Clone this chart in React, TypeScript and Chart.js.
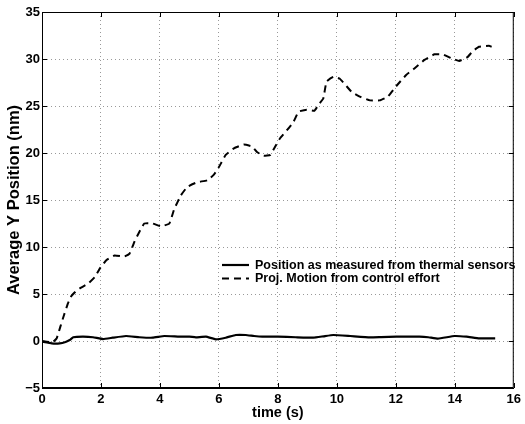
import React, { useEffect, useRef } from "react";
import { Chart, registerables } from "chart.js";

Chart.register(...registerables);

const seriesLabels = ["Position as measured from thermal sensors", "Proj. Motion from control effort"];

const posX = [0, 0.33, 0.6, 0.8, 0.94, 1.06, 1.39, 1.73, 2.07, 2.4, 2.85, 3.3, 3.75, 4.15, 4.65, 5.0, 5.22, 5.56, 5.89, 6.23, 6.57, 6.91, 7.19, 7.47, 8.0, 8.6, 9.2, 9.55, 9.88, 10.45, 11.12, 11.5, 12.02, 12.8, 13.1, 13.43, 13.99, 14.4, 14.83, 15.37];
const posY = [-0.07, -0.25, -0.25, -0.1, 0.1, 0.4, 0.46, 0.4, 0.2, 0.35, 0.53, 0.4, 0.35, 0.53, 0.46, 0.46, 0.39, 0.46, 0.18, 0.35, 0.64, 0.64, 0.53, 0.46, 0.46, 0.4, 0.35, 0.5, 0.64, 0.53, 0.39, 0.42, 0.46, 0.46, 0.4, 0.25, 0.53, 0.46, 0.28, 0.28];

const projX = [0, 0.35, 0.5, 0.62, 0.75, 0.88, 1.0, 1.15, 1.28, 1.56, 1.79, 1.96, 2.18, 2.46, 2.8, 2.97, 3.14, 3.3, 3.47, 3.75, 4.03, 4.32, 4.48, 4.71, 4.93, 5.27, 5.61, 5.83, 6.0, 6.23, 6.51, 6.84, 7.12, 7.29, 7.52, 7.74, 7.91, 8.08, 8.3, 8.53, 8.7, 8.98, 9.24, 9.37, 9.54, 9.65, 9.88, 10.1, 10.33, 10.5, 10.78, 11.12, 11.45, 11.73, 12.01, 12.35, 12.63, 12.97, 13.31, 13.59, 13.87, 14.15, 14.43, 14.6, 14.82, 15.16, 15.25];
const projY = [0, -0.15, 0.3, 1.5, 2.8, 4.0, 4.8, 5.3, 5.6, 6.1, 6.8, 7.7, 8.6, 9.1, 9.0, 9.3, 10.6, 11.6, 12.5, 12.5, 12.2, 12.5, 14.0, 15.5, 16.4, 16.9, 17.1, 17.7, 18.5, 19.8, 20.5, 20.9, 20.7, 20.1, 19.7, 19.8, 20.7, 21.6, 22.4, 23.3, 24.4, 24.6, 24.5, 25.1, 25.8, 27.6, 28.1, 27.9, 27.1, 26.5, 26.0, 25.6, 25.6, 26.0, 27.1, 28.3, 29.0, 29.9, 30.5, 30.5, 30.1, 29.8, 30.2, 30.8, 31.3, 31.4, 31.3];

const xTicks = [0, 2, 4, 6, 8, 10, 12, 14, 16];
const yTicks = [-5, 0, 5, 10, 15, 20, 25, 30, 35];

const FONT = "'Liberation Sans', Arial, Helvetica, sans-serif";

const frame = {
  id: "frame",
  afterDatasetsDraw(chart: any) {
    const { ctx, chartArea: a, scales } = chart;
    ctx.save();
    ctx.strokeStyle = "#000";
    ctx.lineWidth = 1;
    ctx.setLineDash([]);
    ctx.strokeRect(a.left + 0.5, a.top + 0.5, a.right - a.left - 1, a.bottom - a.top - 1);
    const tl = 5;
    ctx.beginPath();
    xTicks.forEach((v) => {
      const px = Math.round(scales.x.getPixelForValue(v)) + 0.5;
      ctx.moveTo(px, a.bottom);
      ctx.lineTo(px, a.bottom - tl);
      ctx.moveTo(px, a.top);
      ctx.lineTo(px, a.top + tl);
    });
    yTicks.forEach((v) => {
      const py = Math.round(scales.y.getPixelForValue(v)) + 0.5;
      ctx.moveTo(a.left, py);
      ctx.lineTo(a.left + tl, py);
      ctx.moveTo(a.right, py);
      ctx.lineTo(a.right - tl, py);
    });
    ctx.stroke();

    // legend inside plot
    const lx = a.left + 180;
    const ly = a.top + 253;
    ctx.font = `bold 12.5px ${FONT}`;
    ctx.fillStyle = "#000";
    ctx.textBaseline = "middle";
    chart.data.datasets.forEach((ds: any, i: number) => {
      const y = ly + i * 13.5;
      ctx.beginPath();
      ctx.lineWidth = ds.borderWidth;
      ctx.setLineDash(ds.borderDash || []);
      ctx.moveTo(lx, y);
      ctx.lineTo(lx + 27, y);
      ctx.stroke();
      ctx.setLineDash([]);
      ctx.fillText(ds.label, lx + 33, y + 0.5);
    });
    ctx.restore();
  },
};

export default function App() {
  const ref = useRef<HTMLCanvasElement>(null);
  useEffect(() => {
    document.body.style.margin = "0";
    const chart = new Chart(ref.current!, {
      type: "line",
      data: {
        datasets: [
          {
            label: seriesLabels[0],
            data: posX.map((x, i) => ({ x, y: posY[i] })),
            borderColor: "#000",
            borderWidth: 2.2,
            pointRadius: 0,
            tension: 0.1,
            fill: false,
          },
          {
            label: seriesLabels[1],
            data: projX.map((x, i) => ({ x, y: projY[i] })),
            borderColor: "#000",
            borderWidth: 2,
            borderDash: [7, 5],
            pointRadius: 0,
            tension: 0.1,
            fill: false,
          },
        ],
      },
      options: {
        animation: false,
        responsive: false,
        layout: { padding: { top: 12, right: 9, left: 0, bottom: 0 } },
        plugins: { legend: { display: false }, tooltip: { enabled: false } },
        scales: {
          x: {
            type: "linear",
            min: 0,
            max: 16,
            afterBuildTicks: (s: any) => {
              s.ticks = xTicks.map((v) => ({ value: v }));
            },
            afterFit: (s: any) => {
              s.height = 36;
            },
            ticks: {
              color: "#000",
              padding: 4,
              maxRotation: 0,
              font: { family: FONT, size: 13, weight: "bold" },
            },
            grid: { color: "rgba(0,0,0,0.4)", drawTicks: false, lineWidth: 1 },
            border: { display: true, color: "#000", dash: [1, 3] },
            title: {
              display: true,
              text: "time (s)",
              color: "#000",
              padding: { top: 0, bottom: 2 },
              font: { family: FONT, size: 14.5, weight: "bold" },
            },
          },
          y: {
            type: "linear",
            min: -5,
            max: 35,
            afterBuildTicks: (s: any) => {
              s.ticks = yTicks.map((v) => ({ value: v }));
            },
            afterFit: (s: any) => {
              s.width = 42;
            },
            ticks: {
              color: "#000",
              padding: 2,
              font: { family: FONT, size: 13, weight: "bold" },
              callback: (v: any) => String(v).replace("-", "\u2212"),
            },
            grid: { color: "rgba(0,0,0,0.4)", drawTicks: false, lineWidth: 1 },
            border: { display: true, color: "#000", dash: [1, 3] },
            title: {
              display: true,
              text: "Average Y Position (nm)",
              color: "#000",
              padding: { top: 5, bottom: 0 },
              font: { family: FONT, size: 16.5, weight: "bold" },
            },
          },
        },
      } as any,
      plugins: [frame],
    });
    return () => chart.destroy();
  }, []);
  return <canvas ref={ref} width={525} height={424} style={{ display: "block", width: 525, height: 424 }} />;
}
